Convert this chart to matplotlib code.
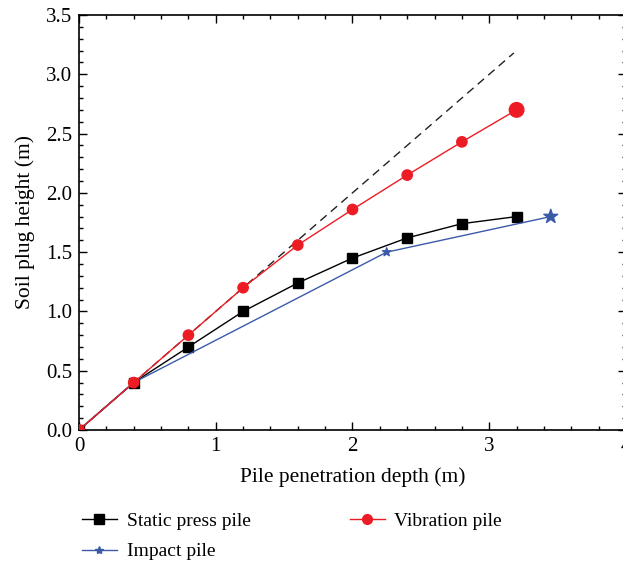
import matplotlib
matplotlib.use("Agg")
import matplotlib.pyplot as plt
from matplotlib.ticker import MultipleLocator, FormatStrFormatter

plt.rcParams['font.family'] = ['Liberation Serif', 'DejaVu Serif']
plt.rcParams['font.size'] = 14

# penetration depth (m) and soil plug height (m)
static_x = [0, 0.4, 0.8, 1.2, 1.6, 2.0, 2.4, 2.8, 3.2]
static_y = [0, 0.40, 0.70, 1.00, 1.24, 1.45, 1.62, 1.74, 1.80]

vib_x = [0, 0.4, 0.8, 1.2, 1.6, 2.0, 2.4, 2.8, 3.2]
vib_y = [0, 0.40, 0.80, 1.20, 1.56, 1.86, 2.15, 2.43, 2.70]
vib_size = [55, 55, 55, 55, 55, 55, 55, 55, 110]

impact_x = [0, 0.4, 2.25, 3.45]
impact_y = [0, 0.40, 1.50, 1.80]
impact_size = [30, 30, 40, 110]

ref_x = [0, 3.18]
ref_y = [0, 3.18]

fig = plt.figure(figsize=(6.23, 5.64), dpi=100)
ax = fig.add_axes([0.1268, 0.2376, 0.878, 0.7358])

red = '#ed1c24'
blue = '#3b5ba9'

ax.plot(ref_x, ref_y, color='#222222', linestyle=(0, (6, 4)), linewidth=1.0, zorder=2)
ax.plot(static_x, static_y, color='black', linewidth=1.0, marker='s', markersize=7,
        label='Static press pile', zorder=3)
ax.plot(impact_x, impact_y, color=blue, linewidth=1.0, zorder=3)
ax.scatter(impact_x, impact_y, s=impact_size, marker='*', color=blue, zorder=4)
ax.plot(vib_x, vib_y, color=red, linewidth=1.0, zorder=5)
ax.scatter(vib_x, vib_y, s=vib_size, marker='o', color=red, zorder=6)

# proxy handles so the legend shows line + marker together
h_static, = ax.plot([], [], color='black', linewidth=1.0, marker='s', markersize=7)
h_vib, = ax.plot([], [], color=red, linewidth=1.0, marker='o', markersize=7)
h_imp, = ax.plot([], [], color=blue, linewidth=1.0, marker='*', markersize=6)

ax.set_xlim(0, 4)
ax.set_ylim(0, 3.5)
ax.xaxis.set_major_locator(MultipleLocator(1))
ax.xaxis.set_minor_locator(MultipleLocator(0.2))
ax.yaxis.set_major_locator(MultipleLocator(0.5))
ax.yaxis.set_minor_locator(MultipleLocator(0.1))
ax.yaxis.set_major_formatter(FormatStrFormatter('%.1f'))
ax.tick_params(which='both', direction='in', top=True, right=True, width=1.0)
ax.tick_params(which='major', length=6, labelsize=15, pad=5)
ax.tick_params(which='minor', length=3)
for s in ax.spines.values():
    s.set_linewidth(1.2)

ax.set_xlabel('Pile penetration depth (m)', fontsize=15.5, labelpad=8)
ax.set_ylabel('Soil plug height (m)', fontsize=15.5, labelpad=8)

fig.legend([h_static, h_imp, h_vib], ['Static press pile', 'Impact pile', 'Vibration pile'],
           ncol=2, loc='upper left', bbox_to_anchor=(0.119, 0.105), frameon=False,
           fontsize=14, handlelength=1.8, handletextpad=0.5, columnspacing=5.1,
           labelspacing=0.65, borderaxespad=0)

fig.savefig('out.png', dpi=100)
